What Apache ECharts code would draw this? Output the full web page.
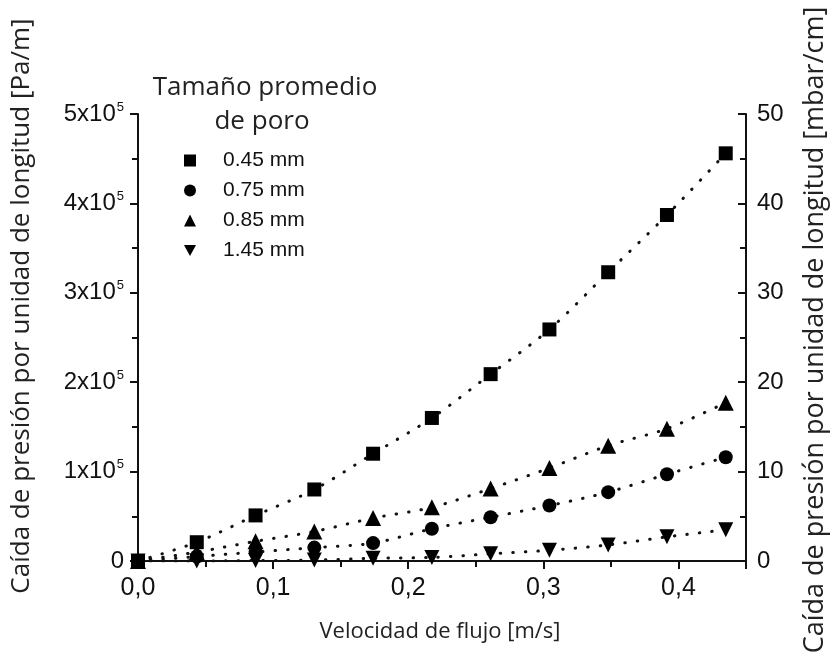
<!DOCTYPE html>
<html>
<head>
<meta charset="utf-8">
<title>Caída de presión</title>
<script src="https://cdn.jsdelivr.net/npm/echarts@6/dist/echarts.min.js"></script>
<style>
  html, body { margin: 0; padding: 0; background: #fff; }
  #main { width: 838px; height: 661px; }
</style>
</head>
<body>
<div id="main"></div>
<script>
// velocidad de flujo [m/s]
const velocidad = [0, 0.0435, 0.087, 0.1305, 0.174, 0.2175, 0.261, 0.3045, 0.348, 0.3915, 0.435];
// caída de presión [Pa/m] por tamaño de poro
const poro045 = [0, 21000, 51000, 80000, 120000, 160000, 209000, 259000, 323000, 387000, 456000];
const poro075 = [0, 5000, 10000, 15000, 20000, 36000, 49000, 62000, 77000, 97000, 116000];
const poro085 = [0, 10000, 22000, 33000, 48000, 60000, 81000, 104000, 129000, 148000, 177000];
const poro145 = [0, 0, 500, 1000, 3000, 4000, 8000, 12000, 18000, 27000, 35000];
const nombres = ["0.45 mm", "0.75 mm", "0.85 mm", "1.45 mm"];
const xTicks = ["0,0", "0,1", "0,2", "0,3", "0,4"];

const downTri = "path://M0,0 L10,0 L5,9 Z";
const simbolos = ["rect", "circle", "triangle", downTri];
const tamanos = [14, 14, 16, 15];

const myChart = echarts.init(document.getElementById("main"));

function par(xs, ys) {
  return xs.map((x, i) => [x, ys[i]]);
}

const series = [poro045, poro075, poro085, poro145].map((ys, k) => {
  return {
    name: nombres[k],
    type: "line",
    data: par(velocidad, ys),
    smooth: 0.3,
    symbol: simbolos[k],
    symbolSize: tamanos[k],
    itemStyle: { color: "#000" },
    lineStyle: { color: "#111", width: 3, type: [0.5, 12], cap: "round" },
    z: 3,
  };
});

const option = {
  animation: false,
  backgroundColor: "#fff",
  grid: { left: 138, right: 92, top: 114, bottom: 100 },
  legend: {
    orient: "vertical",
    left: 179,
    top: 145,
    itemWidth: 12,
    itemHeight: 12,
    itemGap: 9,
    data: nombres.map((n, k) => ({ name: n, icon: simbolos[k] })),
    textStyle: {
      fontFamily: "Liberation Sans",
      fontSize: 21,
      color: "#111",
      lineHeight: 21,
      padding: [0, 0, 0, 22],
    },
    itemStyle: { color: "#000" },
  },
  xAxis: {
    type: "value",
    min: 0,
    max: 0.45,
    interval: 0.1,
    axisLine: { lineStyle: { color: "#111", width: 2 } },
    axisTick: { length: 8, lineStyle: { color: "#111", width: 2 } },
    minorTick: { show: true, splitNumber: 2, length: 6, lineStyle: { color: "#111", width: 2 } },
    splitLine: { show: false },
    axisLabel: {
      showMaxLabel: false,
      margin: 15,
      fontFamily: "Liberation Sans",
      fontSize: 25,
      color: "#111",
      formatter: (v) => xTicks[Math.round(v * 10)] || "",
    },
  },
  yAxis: [
    {
      type: "value",
      position: "left",
      min: 0,
      max: 500000,
      interval: 100000,
      axisLine: { show: true, lineStyle: { color: "#111", width: 2 } },
      axisTick: { show: true, length: 8, lineStyle: { color: "#111", width: 2 } },
      minorTick: { show: true, splitNumber: 2, length: 6, lineStyle: { color: "#111", width: 2 } },
      splitLine: { show: false },
      axisLabel: {
        margin: 14,
        color: "#111",
        formatter: (v) => (v === 0 ? "{b|0}" : "{b|" + v / 100000 + "x10}{s|5}"),
        rich: {
          b: { fontFamily: "Liberation Sans", fontSize: 24, color: "#111" },
          s: { fontFamily: "Liberation Sans", fontSize: 13, color: "#111", padding: [0, 0, 14, 1] },
        },
      },
    },
    {
      type: "value",
      position: "right",
      min: 0,
      max: 50,
      interval: 10,
      axisLine: { show: true, lineStyle: { color: "#111", width: 2 } },
      axisTick: { show: true, inside: true, length: 8, lineStyle: { color: "#111", width: 2 } },
      minorTick: { show: true, splitNumber: 2, length: 6, lineStyle: { color: "#111", width: 2 } },
      splitLine: { show: false },
      axisLabel: {
        margin: 11,
        fontFamily: "Liberation Sans",
        fontSize: 24,
        color: "#111",
      },
    },
  ],
  graphic: [
    {
      type: "text",
      x: 265,
      y: 88,
      style: {
        text: "Tamaño promedio",
        font: '26px "Open Sans"',
        fill: "#222",
        textAlign: "center",
        textVerticalAlign: "middle",
      },
    },
    {
      type: "text",
      x: 262,
      y: 122,
      style: {
        text: "de poro",
        font: '26px "Open Sans"',
        fill: "#222",
        textAlign: "center",
        textVerticalAlign: "middle",
      },
    },
    {
      type: "text",
      x: 440,
      y: 632,
      style: {
        text: "Velocidad de flujo [m/s]",
        font: '22px "Open Sans"',
        fill: "#222",
        textAlign: "center",
        textVerticalAlign: "middle",
      },
    },
    {
      type: "text",
      x: 22,
      y: 306,
      rotation: Math.PI / 2,
      style: {
        text: "Caída de presión por unidad de longitud [Pa/m]",
        font: '26px "Open Sans"',
        fill: "#222",
        textAlign: "center",
        textVerticalAlign: "middle",
      },
    },
    {
      type: "text",
      x: 815,
      y: 330,
      rotation: Math.PI / 2,
      style: {
        text: "Caída de presión por unidad de longitud [mbar/cm]",
        font: '27px "Open Sans"',
        fill: "#222",
        textAlign: "center",
        textVerticalAlign: "middle",
      },
    },
  ],
  series: series,
};

myChart.setOption(option);
</script>
</body>
</html>
